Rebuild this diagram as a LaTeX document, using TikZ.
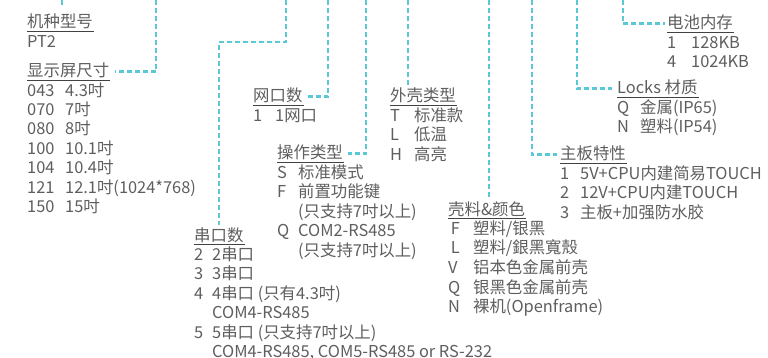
\documentclass[tikz,border=0pt]{standalone}
\usepackage{fontspec}
\setmainfont{Noto Sans CJK SC}
\usepackage{array}
\usepackage{tikz}
\definecolor{linecyan}{HTML}{5BC8D7}
\definecolor{textgray}{HTML}{5E5E5E}
% Schluessel-Spalte mit fester Breite, dann der Wert
\newcommand{\codelist}[2]{\begin{tabular}[t]{@{}p{#1}@{}l@{}}#2\end{tabular}}

\begin{document}
\begin{tikzpicture}[x=1pt,y=-1pt,
  every node/.style={font=\fontsize{16.4}{19.2}\selectfont},
  link/.style={draw=linecyan,line width=2.5pt,dash pattern=on 5pt off 3pt},
  head/.style={anchor=base west,inner sep=0pt,text depth=3pt,text=textgray,
    append after command={(\tikzlastnode.south west) edge[draw=textgray!70!black,line width=0.9pt] ([xshift=1pt]\tikzlastnode.south east)}},
  codes/.style={anchor=base west,inner sep=0pt,text=textgray}]
\useasboundingbox (0,0) rectangle (768,358);
%Obere Enden der Linien
\foreach \name/\x in {typeTop/62,sizeTop/156,portTop/286,lanTop/328,modeTop/366,shellTop/408,caseTop/489,boardTop/532,lockTop/577,memTop/623}{
  \coordinate (\name) at (\x,0);
}
%Ueberschriften
\node[head] (typeHead) at (27,28) {机种型号};
\node[head] (sizeHead) at (27,77) {显示屏尺寸};
\node[head] (portHead) at (194,241) {串口数};
\node[head] (lanHead) at (253,102) {网口数};
\node[head] (modeHead) at (277,159) {操作类型};
\node[head] (shellHead) at (390,102) {外壳类型};
\node[head] (caseHead) at (448,215) {壳料\&颜色};
\node[head] (boardHead) at (560,160) {主板特性};
\node[head] (lockHead) at (617,94) {Locks 材质};
\node[head] (memHead) at (667,29) {电池内存};
%Listen darunter
\node[codes] (typeList) at ([yshift=-19.2pt]typeHead.base west) {PT2};
\node[codes] (sizeList) at ([yshift=-19.2pt]sizeHead.base west) {\codelist{38pt}{
  043 & 4.3吋\\ 070 & 7吋\\ 080 & 8吋\\ 100 & 10.1吋\\ 104 & 10.4吋\\
  121 & 12.1吋(1024*768)\\ 150 & 15吋}};
\node[codes] (portList) at ([yshift=-19.2pt]portHead.base west) {\codelist{18pt}{
  2 & 2串口\\ 3 & 3串口\\ 4 & 4串口 (只有4.3吋)\\ & COM4-RS485\\
  5 & 5串口 (只支持7吋以上)\\ & COM4-RS485, COM5-RS485 or RS-232}};
\node[codes] (lanList) at ([yshift=-19.2pt]lanHead.base west) {\codelist{22pt}{1 & 1网口}};
\node[codes] (modeList) at ([yshift=-19.2pt]modeHead.base west) {\codelist{21pt}{
  S & 标准模式\\ F & 前置功能键\\ & (只支持7吋以上)\\ Q & COM2-RS485\\ & (只支持7吋以上)}};
\node[codes] (shellList) at ([yshift=-19.2pt]shellHead.base west) {\codelist{24pt}{
  T & 标准款\\ L & 低温\\ H & 高亮}};
\node[codes] (caseList) at ([yshift=-19.2pt]caseHead.base west) {\codelist{25pt}{
  \,F & 塑料/银黑\\ \,L & 塑料/銀黑寬殼\\ V & 铝本色金属前壳\\ Q & 银黑色金属前壳\\ N & 裸机(Openframe)}};
\node[codes] (boardList) at ([yshift=-19.2pt]boardHead.base west) {\codelist{20pt}{
  1 & 5V+CPU内建简易TOUCH\\ 2 & 12V+CPU内建TOUCH\\ 3 & 主板+加强防水胶}};
\node[codes] (lockList) at ([yshift=-19.2pt]lockHead.base west) {\codelist{23pt}{
  Q & 金属(IP65)\\ N & 塑料(IP54)}};
\node[codes] (memList) at ([yshift=-19.2pt]memHead.base west) {\codelist{24pt}{
  1 & 128KB\\ 4 & 1024KB}};
%Verbindungen
\draw[link,shorten >=9pt] (typeTop) -- (typeTop |- typeHead.north);
\draw[link] (sizeTop) |- ([xshift=6pt]sizeHead.east);
\draw[link,shorten >=2pt] (portTop) -- ++(0,42) -| (portHead.north);
\draw[link] (lanTop) |- ([xshift=3pt]lanHead.east);
\draw[link] (modeTop) |- ([xshift=5pt]modeHead.east);
\draw[link,shorten >=3pt] (shellTop) -- (shellTop |- shellHead.north);
\draw[link,shorten >=4pt] (caseTop) -- (caseTop |- caseHead.north);
\draw[link] (boardTop) |- ([xshift=-3pt]boardHead.west);
\draw[link] (lockTop) |- ([xshift=-5pt]lockHead.west);
\draw[link] (memTop) |- ([xshift=-2pt]memHead.west);
\end{tikzpicture}
\end{document}
